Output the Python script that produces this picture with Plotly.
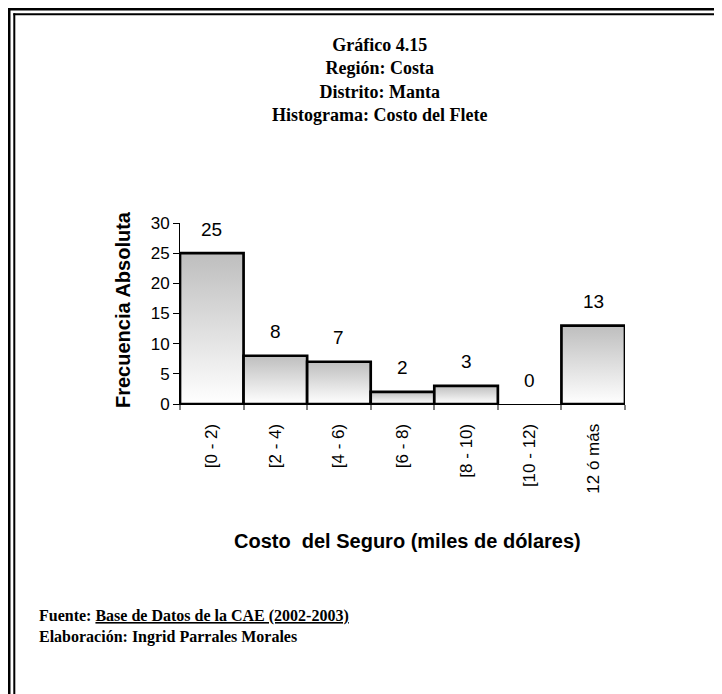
import plotly.graph_objects as go

categories = ["[0 - 2)", "[2 - 4)", "[4 - 6)", "[6 - 8)", "[8 - 10)", "[10 - 12)", "12 ó más"]
frequencies = [25, 8, 7, 2, 3, 0, 13]
y_ticks = [0, 5, 10, 15, 20, 25, 30]

OFF = 8  # page body margin
W, H = 722 - OFF, 694 - OFF
L, T = 180 - OFF, 223 - OFF
R = W - (625 - OFF)
B = H - (404 - OFF)
PW = W - L - R
PH = H - T - B


def px(X):
    """page x pixel -> paper coordinate"""
    return (X - OFF - L) / PW


def py(Y):
    """page y pixel -> paper coordinate"""
    return (H - B - (Y - OFF)) / PH


SANS = "Liberation Sans, Arial, sans-serif"
SERIF = "Liberation Serif, Times New Roman, serif"

idx = list(range(len(categories)))

fig = go.Figure()

fig.add_trace(go.Bar(x=idx, y=frequencies, width=1,
                     marker=dict(color="rgba(0,0,0,0)", line=dict(width=0)),
                     hoverinfo="x+y", showlegend=False))

for i, v in zip(idx, frequencies):
    if v <= 0:
        continue
    fig.add_trace(go.Scatter(
        x=[i - 0.5, i - 0.5, i + 0.5, i + 0.5, i - 0.5],
        y=[0, v, v, 0, 0],
        mode="lines", fill="toself",
        fillgradient=dict(type="vertical", start=0, stop=v,
                          colorscale=[[0, "#ffffff"], [1, "#bebebe"]]),
        line=dict(color="black", width=2.7),
        hoverinfo="skip", showlegend=False))

annotations = []
for i, v in zip(idx, frequencies):
    annotations.append(dict(x=i, y=v, xref="x", yref="y", text=str(v),
                            showarrow=False, yanchor="middle", yshift=24,
                            font=dict(family=SANS, size=19, color="black")))

annotations.append(dict(
    x=px(379), y=py(80), xref="paper", yref="paper",
    text="<b>Gráfico 4.15<br>Región: Costa<br>Distrito: Manta<br>Histograma: Costo del Flete</b>",
    showarrow=False, xanchor="center", yanchor="middle", align="center",
    font=dict(family=SERIF, size=18, color="black")))

annotations.append(dict(
    x=px(123), y=py(310), xref="paper", yref="paper", textangle=-90,
    text="<b>Frecuencia Absoluta</b>", showarrow=False,
    xanchor="center", yanchor="middle",
    font=dict(family=SANS, size=20, color="black")))

annotations.append(dict(
    x=px(407), y=py(541), xref="paper", yref="paper",
    text="<b>Costo\u00a0 del Seguro (miles de dólares)</b>", showarrow=False,
    xanchor="center", yanchor="middle",
    font=dict(family=SANS, size=20, color="black")))

annotations.append(dict(
    x=px(37), y=py(626), xref="paper", yref="paper",
    text="<b>Fuente: <span style=\"text-decoration:underline\">Base de Datos de la CAE (2002-2003)</span>"
         "<br>Elaboración: Ingrid Parrales Morales</b>",
    showarrow=False, xanchor="left", yanchor="middle", align="left",
    font=dict(family=SERIF, size=16, color="black")))

shapes = [
    dict(type="line", xref="paper", yref="paper", x0=px(9), x1=px(9), y0=py(7.5), y1=py(720),
         line=dict(color="black", width=3)),
    dict(type="line", xref="paper", yref="paper", x0=px(7.5), x1=px(760), y0=py(9), y1=py(9),
         line=dict(color="black", width=3)),
    dict(type="line", xref="paper", yref="paper", x0=px(14.3), x1=px(14.3), y0=py(13.3), y1=py(720),
         line=dict(color="black", width=2)),
    dict(type="line", xref="paper", yref="paper", x0=px(13.3), x1=px(760), y0=py(14.3), y1=py(14.3),
         line=dict(color="black", width=2)),
]

fig.update_layout(
    width=W, height=H,
    margin=dict(l=L, r=R, t=T, b=B, pad=0),
    paper_bgcolor="white", plot_bgcolor="white",
    showlegend=False,
    annotations=annotations,
    shapes=shapes,
    bargap=0,
    xaxis=dict(range=[-0.5, len(categories) - 0.5], tickvals=idx, ticktext=categories,
               tickangle=-90, ticks="", showgrid=False, zeroline=False,
               showline=True, linecolor="black", linewidth=1,
               ticklabelstandoff=12,
               tickfont=dict(family=SANS, size=17, color="black"),
               minor=dict(tickvals=[i - 0.5 for i in range(len(categories) + 1)],
                          ticks="outside", ticklen=5, tickcolor="#808080", tickwidth=1.5,
                          showgrid=False)),
    yaxis=dict(range=[0, 30], tickvals=y_ticks, ticks="outside", ticklen=6,
               tickcolor="black", showgrid=False, zeroline=False,
               showline=True, linecolor="black", linewidth=1,
               tickfont=dict(family=SANS, size=17, color="black")),
)

fig.write_html("out.html")
